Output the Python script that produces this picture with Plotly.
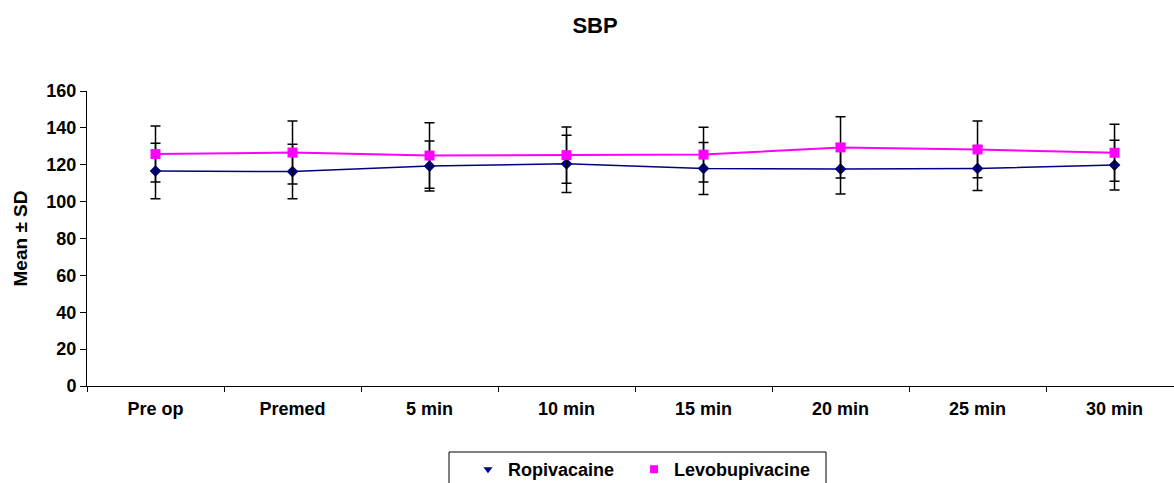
import plotly.graph_objects as go

categories = ["Pre op", "Premed", "5 min", "10 min", "15 min", "20 min", "25 min", "30 min"]
ropi_mean = [116.6, 116.3, 119.3, 120.5, 118.0, 117.7, 118.0, 119.8]
ropi_sd = [15.0, 14.8, 13.6, 15.5, 14.1, 13.5, 12.0, 13.5]
levo_mean = [125.8, 126.6, 125.0, 125.2, 125.5, 129.4, 128.3, 126.5]
levo_sd = [15.2, 17.1, 17.8, 15.3, 14.9, 16.6, 15.4, 15.4]
y_ticks = [0, 20, 40, 60, 80, 100, 120, 140, 160]

FONT = "Arial, Liberation Sans, sans-serif"
NAVY = "#000080"
MAGENTA = "#FF00FF"
NB = "\u00a0"

fig = go.Figure()
fig.add_trace(go.Scatter(
    x=categories, y=ropi_mean, mode="lines+markers", name="Ropivacaine",
    line=dict(color=NAVY, width=1.5),
    marker=dict(symbol="diamond", size=9, color=NAVY),
    error_y=dict(type="data", array=ropi_sd, visible=True, color="black", thickness=1.5, width=5),
    showlegend=False,
))
fig.add_trace(go.Scatter(
    x=categories, y=levo_mean, mode="lines+markers", name="Levobupivacine",
    line=dict(color=MAGENTA, width=2),
    marker=dict(symbol="square", size=10, color=MAGENTA),
    error_y=dict(type="data", array=levo_sd, visible=True, color="black", thickness=1.5, width=5),
    showlegend=False,
))
# legend-only entries (marker glyphs only, as in the reference)
fig.add_trace(go.Scatter(
    x=[None], y=[None], mode="markers", name="Ropivacaine" + NB * 3,
    marker=dict(symbol="triangle-down", size=8, color=NAVY),
))
fig.add_trace(go.Scatter(
    x=[None], y=[None], mode="markers", name="Levobupivacine",
    marker=dict(symbol="square", size=8, color=MAGENTA),
))

PW = 1087.0  # plot width in px
PH = 295.0   # plot height in px

fig.update_layout(
    width=1174, height=483,
    margin=dict(l=87, r=0, t=91, b=97, autoexpand=False),
    paper_bgcolor="white", plot_bgcolor="white",
    font=dict(family=FONT, size=18, color="black", weight="bold"),
    title=dict(text="<b>SBP</b>", x=595/1174, xref="container", xanchor="center",
               y=1 - 25/483, yref="container", yanchor="middle",
               font=dict(family=FONT, size=22, color="black")),
    legend=dict(orientation="h", x=(468 - 87) / PW, xanchor="left",
                y=(386 - 451) / PH, yanchor="top",
                bgcolor="rgba(0,0,0,0)", borderwidth=0,
                font=dict(family=FONT, size=18, color="black", weight="bold")),
    shapes=[dict(type="rect", xref="paper", yref="paper",
                 x0=(449 - 87) / PW, x1=(826 - 87) / PW,
                 y0=(386 - 452) / PH, y1=(386 - 520) / PH,
                 line=dict(color="black", width=1), fillcolor="rgba(0,0,0,0)")],
    xaxis=dict(
        type="category", categoryorder="array", categoryarray=categories,
        range=[-0.5, 7.434], tickson="boundaries", ticks="outside", ticklen=5,
        tickcolor="black", showline=True, linecolor="black", linewidth=1,
        showgrid=False, zeroline=False, automargin=False, ticklabelstandoff=6,
        tickfont=dict(family=FONT, size=18, color="black", weight="bold"),
    ),
    yaxis=dict(
        range=[0, 160], tickvals=y_ticks, ticks="outside", ticklen=6,
        tickcolor="black", showline=True, linecolor="black", linewidth=1,
        showgrid=False, zeroline=False, automargin=False,
        tickfont=dict(family=FONT, size=18, color="black", weight="bold"),
        title=dict(text="Mean ± SD", standoff=13,
                   font=dict(family=FONT, size=19, color="black", weight="bold")),
    ),
)

fig.write_html("out.html", config={"displayModeBar": False},
               post_script="document.body.style.margin='0px';")
